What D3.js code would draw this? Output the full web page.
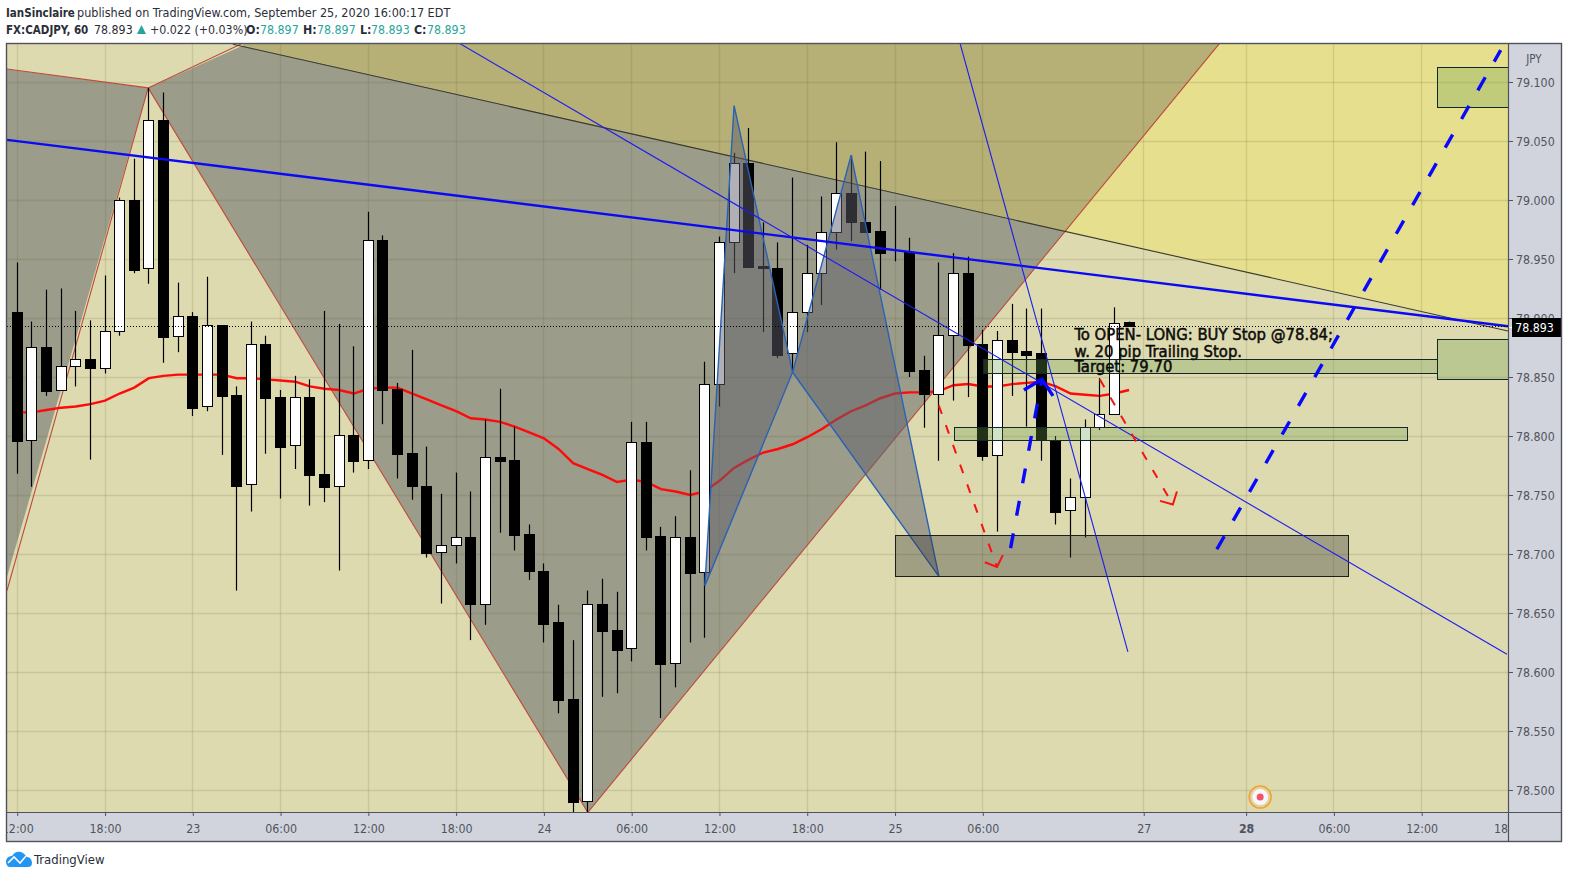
<!DOCTYPE html>
<html><head><meta charset="utf-8">
<style>
html,body{margin:0;padding:0;background:#fff;}
svg{display:block;}
text{font-family:"DejaVu Sans Condensed","DejaVu Sans",sans-serif;font-stretch:condensed;}
</style>
<script src="https://cdnjs.cloudflare.com/ajax/libs/d3/7.8.5/d3.min.js"></script>
</head><body><svg id="c" width="1569" height="879"></svg>
<script>
// ---- series values (bar index 0 = 12:00, one bar per hour) ----
const opens=[78.905,78.797,78.875,78.839,78.859,78.865,78.858,78.889,79.000,78.942,79.068,78.885,78.902,78.825,78.894,78.835,78.759,78.878,78.833,78.792,78.833,78.768,78.758,78.801,78.780,78.966,78.840,78.786,78.758,78.702,78.708,78.714,78.658,78.782,78.780,78.717,78.686,78.642,78.577,78.491,78.658,78.636,78.620,78.795,78.715,78.608,78.714,78.685,78.844,78.964,79.031,78.944,78.942,78.870,78.905,78.938,78.973,79.006,78.981,78.974,78.955,78.956,78.856,78.836,78.886,78.938,78.878,78.784,78.881,78.872,78.870,78.797,78.737,78.748,78.808,78.819,78.897];
const highs=[78.947,78.897,78.924,78.925,78.906,78.898,78.936,79.002,79.035,79.095,79.091,78.930,78.905,78.935,78.894,78.842,78.897,78.885,78.839,78.851,78.848,78.906,78.895,78.876,78.990,78.970,78.845,78.873,78.791,78.751,78.769,78.753,78.814,78.840,78.808,78.725,78.692,78.657,78.627,78.669,78.679,78.668,78.812,78.812,78.723,78.732,78.771,78.863,78.969,79.040,79.061,78.981,78.964,79.019,78.962,79.003,79.049,79.038,79.041,79.033,78.995,78.968,78.868,78.947,78.955,78.952,78.890,78.889,78.912,78.908,78.908,78.800,78.764,78.814,78.849,78.909,78.897];
const lows=[78.768,78.757,78.834,78.839,78.842,78.780,78.853,78.885,78.938,78.929,78.862,78.871,78.817,78.821,78.784,78.669,78.736,78.785,78.747,78.772,78.741,78.744,78.686,78.769,78.772,78.810,78.764,78.746,78.697,78.658,78.692,78.627,78.640,78.718,78.703,78.678,78.625,78.565,78.481,78.481,78.579,78.582,78.609,78.703,78.561,78.587,78.625,78.629,78.825,78.938,78.943,78.888,78.866,78.854,78.888,78.911,78.958,78.965,78.973,78.924,78.948,78.850,78.807,78.779,78.830,78.833,78.779,78.719,78.834,78.808,78.779,78.725,78.697,78.714,78.805,78.819,78.893];
const closes=[78.796,78.875,78.838,78.859,78.865,78.858,78.889,79.000,78.941,79.068,78.884,78.902,78.824,78.894,78.834,78.758,78.878,78.832,78.791,78.833,78.767,78.757,78.801,78.779,78.966,78.839,78.785,78.758,78.701,78.708,78.714,78.658,78.782,78.779,78.716,78.686,78.641,78.576,78.490,78.658,78.635,78.619,78.795,78.714,78.607,78.714,78.684,78.844,78.964,79.031,78.943,78.942,78.869,78.905,78.938,78.973,79.006,78.981,78.973,78.955,78.955,78.855,78.836,78.886,78.938,78.877,78.783,78.881,78.871,78.869,78.797,78.736,78.748,78.808,78.819,78.896,78.893];
const movingAvg=[78.820,78.820,78.822,78.824,78.825,78.827,78.830,78.836,78.841,78.849,78.851,78.852,78.852,78.852,78.852,78.849,78.849,78.848,78.847,78.846,78.842,78.840,78.839,78.836,78.840,78.841,78.841,78.836,78.831,78.826,78.821,78.815,78.814,78.812,78.808,78.803,78.798,78.789,78.777,78.772,78.767,78.761,78.763,78.761,78.755,78.753,78.750,78.753,78.762,78.773,78.780,78.786,78.789,78.793,78.799,78.806,78.814,78.821,78.826,78.832,78.836,78.837,78.837,78.838,78.843,78.844,78.842,78.842,78.844,78.845,78.846,78.842,78.836,78.835,78.834,78.836,78.839];
// ---- axis ticks ----
const priceTicks=[79.1,79.05,79.0,78.95,78.9,78.85,78.8,78.75,78.7,78.65,78.6,78.55,78.5];
const timeTickBars=[0,6,12,18,24,30,36,42,48,54,60,66,77,84,90,96,102];
const timeTickLabels=["12:00","18:00","23","06:00","12:00","18:00","24","06:00","12:00","18:00","25","06:00","27","28","06:00","12:00","18:00"];
const boldTimeTicks=["28"];
// ---- header ----
const publisher="IanSinclaire", publishedText="published on TradingView.com, September 25, 2020 16:00:17 EDT";
const lastPrice=78.893, openLabel="78.897", highLabel="78.897", lowLabel="78.893", closeLabel="78.893";
// ---- drawings in [bar, price] ----
const regionOlive=[[15.43,79.131],[15.43,79.133],[82.2,79.133],[71.65,78.974]];
const regionYellow=[[82.2,79.133],[103,79.133],[103,78.887],[71.65,78.974]];
const regionGrayMain=[[8.95,79.095],[15.43,79.131],[71.65,78.974],[39,78.481]];
const regionGrayLeft=[[-2,79.113],[8.95,79.095],[-2,78.625]];
const redLines=[[[-0.7,79.111],[8.95,79.095]],[[8.95,79.095],[15.43,79.133]],[[8.95,79.095],[-0.7,78.669]],[[8.95,79.095],[39,78.481]],[[39,78.481],[82.2,79.133]]];
const darkLine=[[14.74,79.132],[101.9,78.889]];
const harmonicA=[[47,78.673],[49,79.080],[53,78.854]];
const harmonicB=[[53,78.854],[57,79.038],[63,78.681]];
const thickBlue=[[-0.7,79.051],[101.9,78.893]];
const thinBlueA=[[30.19,79.133],[101.83,78.615]];
const thinBlueB=[[64.44,79.133],[75.92,78.617]];
const greenBoxes=[[66,97.04,78.865,78.853],[97.04,103,78.882,78.848],[64.03,94.99,78.808,78.797],[97.04,103,79.113,79.079]];
const grayBox=[60,90.96,78.716,78.681];
const redDash=[[[62.99,78.826],[66.97,78.689]],[[74.0,78.848],[78.99,78.742]]];
const redHeads=[[[66.14,78.693],[66.97,78.689],[67.37,78.699]],[[78.11,78.745],[78.99,78.742],[79.27,78.753]]];
const blueDash=[[[67.9,78.705],[70.04,78.848]],[[82.0,78.704],[101.4,79.127]]];
const blueHead=[[68.81,78.839],[70.04,78.848],[70.8,78.834]];
const noteLines=["To OPEN- LONG: BUY Stop @78.84;","w. 20 pip Trailing Stop.","Target: 79.70"];
const noteAnchor=[72.27,[78.881,78.867,78.854]];
const targetIconAt=[84.96,78.494];

const L=7,R=1508,T=43,B=812,RP=1562,BP=842;
const x=d3.scaleLinear().domain([-0.7,101.9]).range([L,R]);
const y=d3.scaleLinear().domain([79.1,78.5]).range([82,790]);
const px=d=>x(d[0]), py=d=>y(d[1]);
const line=d3.line().x(px).y(py);
const svg=d3.select("#c");
const defs=svg.append("defs");
defs.append("clipPath").attr("id","pane").append("rect").attr("x",L).attr("y",T).attr("width",R-L).attr("height",B-T);
defs.append("clipPath").attr("id","tpane").append("rect").attr("x",L).attr("y",B).attr("width",R-L).attr("height",BP-B);
const BG="#dedab0";
svg.append("rect").attr("x",L).attr("y",T).attr("width",R-L).attr("height",B-T).attr("fill",BG);
const g=svg.append("g").attr("clip-path","url(#pane)");
const poly=(pts,f)=>g.append("path").attr("d",line(pts)+"Z").attr("fill",f);
poly(regionYellow,"#e6df8e");
poly(regionOlive,"#b6b076");
poly(regionGrayMain,"#9c9c8a");
poly(regionGrayLeft,"#9c9c8a");
// grid
const gridC="rgba(95,95,50,0.16)";
g.append("g").selectAll("line").data(priceTicks).join("line").attr("x1",L).attr("x2",R)
 .attr("y1",d=>Math.round(y(d))+.5).attr("y2",d=>Math.round(y(d))+.5).attr("stroke",gridC).attr("stroke-width",1.4);
g.append("g").selectAll("line").data(timeTickBars).join("line").attr("y1",T).attr("y2",B)
 .attr("x1",d=>Math.floor(x(d))+.5).attr("x2",d=>Math.floor(x(d))+.5).attr("stroke",gridC).attr("stroke-width",1.4);
// region edges
g.append("g").selectAll("path").data(redLines).join("path").attr("d",line).attr("fill","none").attr("stroke","#bd4a3c").attr("stroke-width",1.1);
g.append("path").attr("d",line(darkLine)).attr("fill","none").attr("stroke","#3b3a22").attr("stroke-width",1.1);
// moving average
g.append("path").attr("d",d3.line().x((d,i)=>x(i)).y(d=>y(d))(movingAvg)).attr("fill","none").attr("stroke","#ff0a0a").attr("stroke-width",2.4);
// candles
const bars=g.append("g").selectAll("g").data(opens.map((o,i)=>({i,o,h:highs[i],l:lows[i],c:closes[i]}))).join("g");
const cx=d=>Math.floor(x(d.i))+.5;
bars.append("line").attr("x1",cx).attr("x2",cx).attr("y1",d=>y(d.h)).attr("y2",d=>y(d.l)).attr("stroke","#000").attr("stroke-width",1.2);
bars.append("rect").attr("x",d=>cx(d)-5).attr("width",10)
 .attr("y",d=>Math.round(y(Math.max(d.o,d.c)))+.5)
 .attr("height",d=>Math.max(0,Math.round(y(Math.min(d.o,d.c)))-Math.round(y(Math.max(d.o,d.c)))))
 .attr("fill",d=>d.c>d.o?"#fff":"#000").attr("stroke","#000").attr("stroke-width",1);
// harmonic pattern
[harmonicA,harmonicB].forEach(p=>g.append("path").attr("d",line(p)+"Z").attr("fill","rgba(93,93,107,0.49)").attr("stroke","#2a62b4").attr("stroke-width",1.4));
// boxes
const box=(b,f,s)=>g.append("rect").attr("x",Math.round(x(b[0]))+.5).attr("width",Math.round(x(b[1]))-Math.round(x(b[0])))
 .attr("y",Math.round(y(b[2]))+.5).attr("height",Math.round(y(b[3]))-Math.round(y(b[2]))).attr("fill",f).attr("stroke",s);
box(grayBox,"rgba(50,50,50,0.35)","#1a1f1c");
greenBoxes.forEach(b=>box(b,"rgba(110,160,80,0.31)","#15262a"));
// blue lines
g.append("path").attr("d",line(thickBlue)).attr("stroke","#0a0af5").attr("stroke-width",2.4).attr("fill","none");
[thinBlueA,thinBlueB].forEach(p=>g.append("path").attr("d",line(p)).attr("stroke","#1c1cf0").attr("stroke-width",1.1).attr("fill","none"));
// dashed arrows
redDash.forEach(p=>g.append("path").attr("d",line(p)).attr("stroke","#f41414").attr("stroke-width",2).attr("stroke-dasharray","9 12").attr("fill","none"));
redHeads.forEach(p=>g.append("path").attr("d",line(p)).attr("stroke","#f41414").attr("stroke-width",2).attr("fill","none"));
blueDash.forEach(p=>g.append("path").attr("d",line(p)).attr("stroke","#0808ff").attr("stroke-width",3.4).attr("stroke-dasharray","15 18").attr("fill","none"));
g.append("path").attr("d",line(blueHead)).attr("stroke","#0808ff").attr("stroke-width",3.4).attr("fill","none");
// last price dotted line
g.append("line").attr("x1",L).attr("x2",R).attr("y1",Math.round(y(lastPrice))+.5).attr("y2",Math.round(y(lastPrice))+.5)
 .attr("stroke","#000").attr("stroke-dasharray","1 2");
// note
g.append("g").selectAll("text").data(noteLines).join("text").attr("x",x(noteAnchor[0]))
 .attr("y",(d,i)=>y(noteAnchor[1][i])).text(d=>d).attr("font-size",16.5).attr("fill","#0c0c0c").attr("stroke","#0c0c0c").attr("stroke-width",.5);
// target icon
const ti=g.append("g").attr("transform",`translate(${x(targetIconAt[0])},${y(targetIconAt[1])})`);
ti.append("circle").attr("r",11).attr("fill","#d9d6aa").attr("stroke","#f7a02b").attr("stroke-width",1.5);
ti.append("circle").attr("r",8).attr("fill","#f7f7f7");
ti.append("circle").attr("r",3.5).attr("fill","#f2526a");
// axis panels
svg.append("rect").attr("x",R).attr("y",T).attr("width",RP-R).attr("height",BP-T).attr("fill","#d1d4dc");
svg.append("rect").attr("x",L-1).attr("y",B).attr("width",R-L+1).attr("height",BP-B).attr("fill","#d1d4dc");
const AC="#50535e";
const yAxis=d3.axisRight(y).tickValues(priceTicks).tickSize(5).tickPadding(3).tickFormat(d3.format(".3f"));
const ya=svg.append("g").attr("transform",`translate(${R},0)`).call(yAxis);
ya.attr("font-family",null).attr("font-size",null);
ya.select(".domain").remove();
ya.selectAll("line").attr("stroke",AC);
ya.selectAll("text").attr("fill",AC).attr("font-size",12.3).attr("dy","0.36em");
const xAxis=d3.axisBottom(x).tickValues(timeTickBars).tickSize(4).tickPadding(8).tickFormat((d,i)=>timeTickLabels[i]);
const xwrap=svg.append("g").attr("clip-path","url(#tpane)");
const xa=xwrap.append("g").attr("transform",`translate(0,${B})`).call(xAxis);
xa.attr("font-family",null).attr("font-size",null);
xa.select(".domain").remove();
xa.selectAll("line").attr("stroke",AC);
xa.selectAll("text").attr("fill",AC).attr("font-size",12.3)
  .attr("font-weight",function(){return boldTimeTicks.includes(this.textContent)?700:400;});
svg.append("text").attr("x",1534).attr("y",63).attr("text-anchor","middle").attr("font-size",11.5).attr("fill",AC).text("JPY");
// last price tag
svg.append("rect").attr("x",1512).attr("y",318).attr("width",49).attr("height",19).attr("fill","#000");
svg.append("line").attr("x1",R).attr("x2",1512).attr("y1",327.5).attr("y2",327.5).attr("stroke","#fff");
svg.append("text").attr("x",1534.5).attr("y",332).attr("text-anchor","middle").attr("font-size",12.3).attr("fill","#fff").text(d3.format(".3f")(lastPrice));
// frame
svg.append("rect").attr("x",6.5).attr("y",43.5).attr("width",RP-7).attr("height",BP-44).attr("fill","none").attr("stroke",AC).attr("stroke-width",1.4);
svg.append("line").attr("x1",R+.5).attr("x2",R+.5).attr("y1",T).attr("y2",BP).attr("stroke",AC).attr("stroke-width",1.2);
svg.append("line").attr("x1",6).attr("x2",RP).attr("y1",B+.5).attr("y2",B+.5).attr("stroke",AC).attr("stroke-width",1.2);
// header
const TXT="#2a2e39",TEAL="#26a69a";
const FS=12.3;
svg.append("text").attr("x",6).attr("y",17).attr("font-size",11.5).attr("font-weight",700).attr("fill",TXT).text(publisher);
svg.append("text").attr("x",77).attr("y",17).attr("font-size",12.5).attr("fill",TXT).text(publishedText);
const row=(xp,t,f,w,fs)=>svg.append("text").attr("x",xp).attr("y",34).attr("font-size",fs||FS).attr("fill",f).attr("font-weight",w).text(t);
row(6,"FX:CADJPY, 60",TXT,700,11.5);
row(94,d3.format(".3f")(lastPrice),TXT,400);
svg.append("path").attr("d","M137 34L141.5 25L146 34Z").attr("fill",TEAL);
row(150,"+0.022 (+0.03%)",TXT,400);
row(246,"O:",TXT,700);row(260,openLabel,TEAL,400);
row(303,"H:",TXT,700);row(317,highLabel,TEAL,400);
row(360,"L:",TXT,700);row(371,lowLabel,TEAL,400);
row(414,"C:",TXT,700);row(427,closeLabel,TEAL,400);
// logo
svg.append("path").attr("d","M6 862C6 858 9 856 12 856C14 852 18 851 21 852C24 853 26 856 27 857C30 857 32 860 32 863C32 866 30 867 28 867L10 867C8 867 6 865 6 862Z").attr("fill","#2196f3");
svg.append("path").attr("d","M8 863L14 857L20 863L26 856").attr("fill","none").attr("stroke","#fff").attr("stroke-width",1.6);
svg.append("text").attr("x",34).attr("y",864).attr("font-size",13).attr("fill","#2a2e39").text("TradingView");
</script></body></html>
